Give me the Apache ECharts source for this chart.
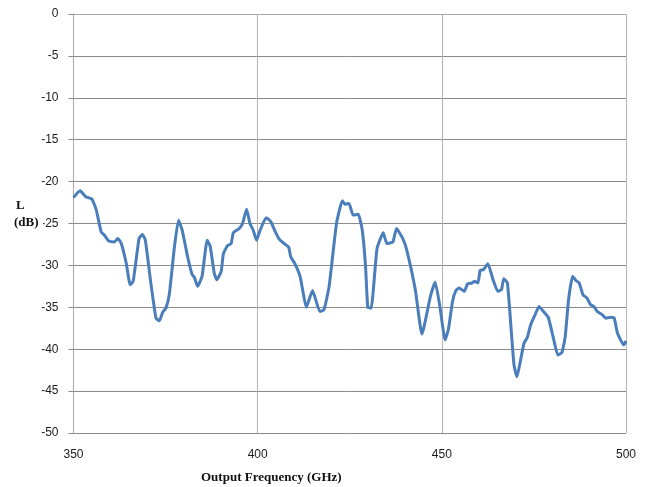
<!DOCTYPE html>
<html>
<head>
<meta charset="utf-8">
<script src="https://cdn.jsdelivr.net/npm/echarts@6/dist/echarts.min.js"></script>
<style>
  html, body { margin: 0; padding: 0; background: #ffffff; }
  #chart { width: 645px; height: 487px; }
</style>
</head>
<body>
<div id="chart"></div>
<script>
// Output frequency (GHz)
const freq = [
  350.0, 351.8, 353.3, 355.0, 356.2, 357.5, 358.4, 359.6, 361.1, 362.0,
  362.9, 364.3, 365.4, 366.2, 367.8, 368.7, 369.5, 371.0, 372.4, 373.3,
  374.2, 375.1, 376.0, 377.4, 378.5, 379.5, 381.0, 382.2, 382.8, 383.7,
  384.9, 386.3, 387.1, 388.2, 388.9, 390.1, 390.7, 391.9, 392.8, 393.4,
  395.0, 395.9, 397.0, 397.9, 398.8, 399.7, 400.5, 402.3, 403.6, 404.8,
  405.9, 407.2, 408.4, 409.0, 410.1, 411.5, 412.2, 413.2, 414.9, 416.9,
  418.0, 419.4, 421.4, 423.0, 423.7, 424.8, 425.9, 427.3, 428.4, 429.3,
  429.9, 430.8, 432.4, 434.1, 435.1, 436.7, 437.7, 439.4, 440.5, 442.8,
  444.6, 446.9, 448.2, 449.5, 450.9, 451.8, 452.9, 453.8, 454.7, 456.1,
  457.0, 458.2, 458.9, 459.8, 460.4, 461.3, 462.5, 463.9, 465.2, 466.2,
  466.8, 467.8, 468.9, 469.6, 470.4, 471.2, 472.3, 473.2, 474.1, 475.3,
  476.4, 477.6, 478.9, 480.3, 481.5, 482.6, 483.5, 484.4, 485.5, 486.4,
  487.3, 488.3, 489.4, 490.4, 491.3, 492.2, 493.6, 494.5, 495.9, 496.8,
  497.7, 499.4, 500.0
];

// Loss L (dB)
const loss = [
  -21.9, -21.1, -21.8, -22.1, -23.4, -26.0, -26.4, -27.1, -27.2, -26.8,
  -27.3, -29.7, -32.3, -31.9, -26.8, -26.3, -27.0, -32.1, -36.3, -36.6,
  -35.6, -35.1, -33.5, -27.8, -24.6, -25.8, -29.0, -31.1, -31.4, -32.5,
  -31.3, -27.0, -27.7, -30.9, -31.7, -30.7, -28.6, -27.6, -27.4, -26.1,
  -25.6, -25.0, -23.3, -25.0, -25.8, -27.0, -26.0, -24.3, -24.8, -26.0,
  -26.9, -27.4, -27.8, -29.0, -29.8, -31.3, -32.9, -35.0, -33.0, -35.5,
  -35.3, -32.5, -25.0, -22.3, -22.7, -22.6, -24.0, -23.9, -25.8, -30.2,
  -35.0, -35.1, -28.0, -26.1, -27.4, -27.2, -25.6, -26.8, -28.2, -32.9,
  -38.2, -33.7, -32.0, -35.0, -38.9, -37.6, -34.3, -33.0, -32.7, -33.1,
  -32.2, -32.1, -31.9, -32.1, -30.6, -30.5, -29.8, -31.7, -33.1, -32.9,
  -31.6, -32.1, -38.1, -41.9, -43.3, -41.7, -39.3, -38.6, -37.1, -35.9,
  -34.9, -35.5, -36.2, -38.7, -40.7, -40.4, -38.5, -34.1, -31.3, -31.8,
  -32.1, -33.5, -33.9, -34.7, -34.9, -35.5, -35.9, -36.3, -36.2, -36.3,
  -38.1, -39.5, -39.0
];

const xTicks = [350, 400, 450, 500];
const yTicks = [0, -5, -10, -15, -20, -25, -30, -35, -40, -45, -50];

const chart = echarts.init(document.getElementById('chart'), null, { renderer: 'canvas' });

const labelFont = { fontFamily: 'Liberation Sans, Arial, sans-serif', fontSize: 12, color: '#1a1a1a' };

chart.setOption({
  backgroundColor: '#ffffff',
  animation: false,
  grid: { left: 73.5, right: 19, top: 14, bottom: 54, containLabel: false },
  xAxis: {
    type: 'value',
    min: xTicks[0],
    max: xTicks[xTicks.length - 1],
    interval: 50,
    axisLine: { show: true, lineStyle: { color: '#a8a8a8', width: 1 } },
    axisTick: { show: false },
    axisLabel: { ...labelFont, margin: 16 },
    splitLine: { show: true, lineStyle: { color: '#b4b4b4', width: 1 } }
  },
  yAxis: {
    type: 'value',
    min: yTicks[yTicks.length - 1],
    max: yTicks[0],
    interval: 5,
    axisLine: { show: true, lineStyle: { color: '#a8a8a8', width: 1 } },
    axisTick: { show: true, length: 5, inside: false, lineStyle: { color: '#8a8a8a' } },
    axisLabel: { ...labelFont, margin: 15 },
    splitLine: { show: true, lineStyle: { color: '#8a8a8a', width: 1 } }
  },
  series: [{
    type: 'line',
    data: freq.map((f, i) => [f, loss[i]]),
    showSymbol: false,
    smooth: 0.15,
    lineStyle: { color: '#4a7ebb', width: 3 },
    itemStyle: { color: '#4a7ebb' },
    z: 3
  }],
  graphic: [
    { type: 'text', left: 16, top: 199, style: { text: 'L', font: 'bold 13px "Liberation Serif", serif', fill: '#111' } },
    { type: 'rect', left: 13, top: 215, shape: { width: 30, height: 17 }, style: { fill: '#ffffff' }, z: 10 },
    { type: 'text', left: 14, top: 216, z: 11, style: { text: '(dB)', font: 'bold 13px "Liberation Serif", serif', fill: '#111' } },
    { type: 'text', left: 201, top: 471, style: { text: 'Output Frequency (GHz)', font: 'bold 13px "Liberation Serif", serif', fill: '#111' } }
  ]
});
</script>
</body>
</html>
